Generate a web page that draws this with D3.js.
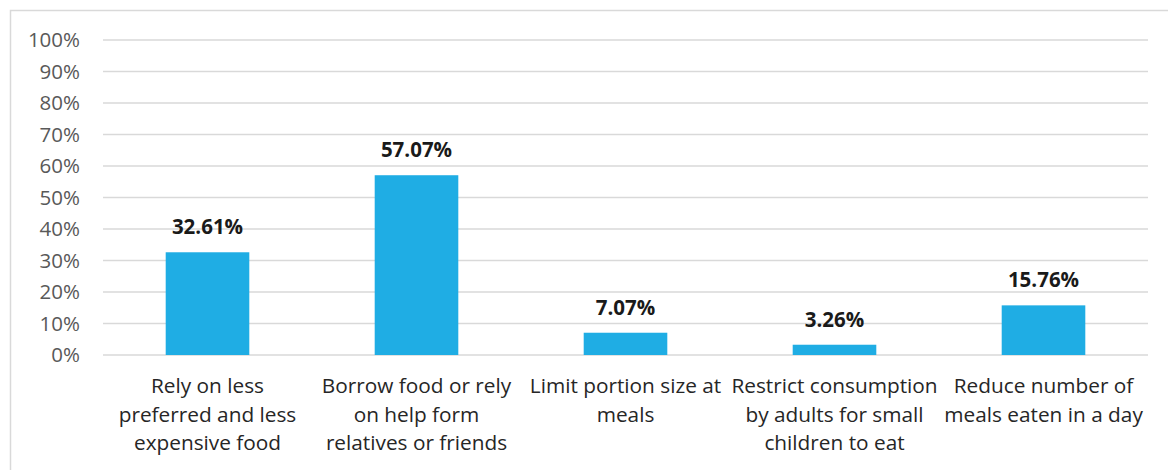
<!DOCTYPE html>
<html>
<head>
<meta charset="utf-8">
<script src="https://cdn.jsdelivr.net/npm/d3@7"></script>
<style>
  html, body { margin: 0; padding: 0; background: #fff; }
  svg { display: block; font-family: "Open Sans", "Noto Sans", sans-serif; }
</style>
</head>
<body>
<svg id="chart" width="1168" height="470"></svg>
<script>
// Coping strategies and share of households using each
const categories = [
  "Rely on less preferred and less expensive food",
  "Borrow food or rely on help form relatives or friends",
  "Limit portion size at meals",
  "Restrict consumption by adults for small children to eat",
  "Reduce number of meals eaten in a day"
];
const categoryLines = [
  ["Rely on less", "preferred and less", "expensive food"],
  ["Borrow food or rely", "on help form", "relatives or friends"],
  ["Limit portion size at", "meals"],
  ["Restrict consumption", "by adults for small", "children to eat"],
  ["Reduce number of", "meals eaten in a day"]
];
const values = [32.61, 57.07, 7.07, 3.26, 15.76];
const tickValues = [0, 10, 20, 30, 40, 50, 60, 70, 80, 90, 100];

const svg = d3.select("#chart");
const plotLeft = 103, plotRight = 1148;

// outer chart frame
svg.append("rect")
  .attr("x", 10.5).attr("y", 10.5)
  .attr("width", 1170).attr("height", 480)
  .attr("fill", "none").attr("stroke", "#d9d9d9").attr("stroke-width", 1.5);

const x = d3.scaleBand()
  .domain(categories)
  .range([plotLeft, plotRight])
  .paddingInner(0.6).paddingOuter(0.3);

const y = d3.scaleLinear().domain([0, 100]).range([355, 40]);

// gridlines
svg.append("g")
  .selectAll("line")
  .data(tickValues)
  .join("line")
  .attr("x1", plotLeft).attr("x2", plotRight)
  .attr("y1", d => y(d)).attr("y2", d => y(d))
  .attr("stroke", "#d9d9d9").attr("stroke-width", 1.5);

// y axis labels
const yAxis = d3.axisLeft(y).tickValues(tickValues).tickFormat(d => d + "%").tickSize(0).tickPadding(0);
const gy = svg.append("g").attr("transform", "translate(80,0)").call(yAxis);
gy.select(".domain").remove();
gy.selectAll("text")
  .attr("fill", "#595959")
  .style("font-size", "20.5px")
  .style("font-family", "'Open Sans', 'Noto Sans', sans-serif");

// bars
svg.append("g")
  .selectAll("rect")
  .data(values)
  .join("rect")
  .attr("x", (d, i) => x(categories[i]))
  .attr("width", x.bandwidth())
  .attr("y", d => y(d))
  .attr("height", d => y(0) - y(d))
  .attr("fill", "#1fade4");

// value labels
svg.append("g")
  .selectAll("text")
  .data(values)
  .join("text")
  .attr("x", (d, i) => x(categories[i]) + x.bandwidth() / 2)
  .attr("y", d => y(d) - 18)
  .attr("text-anchor", "middle")
  .attr("fill", "#1a1a1a")
  .style("font-size", "20.5px")
  .style("font-weight", "bold")
  .text(d => d.toFixed(2) + "%");

// category labels
const cat = svg.append("g")
  .selectAll("text")
  .data(categoryLines)
  .join("text")
  .attr("text-anchor", "middle")
  .attr("fill", "#262626")
  .style("font-size", "20.8px")
  .attr("transform", (d, i) => `translate(${x(categories[i]) + x.bandwidth() / 2},393)`);
cat.selectAll("tspan")
  .data(d => d)
  .join("tspan")
  .attr("x", 0)
  .attr("y", (d, j) => j * 28.5)
  .text(d => d);
</script>
</body>
</html>
